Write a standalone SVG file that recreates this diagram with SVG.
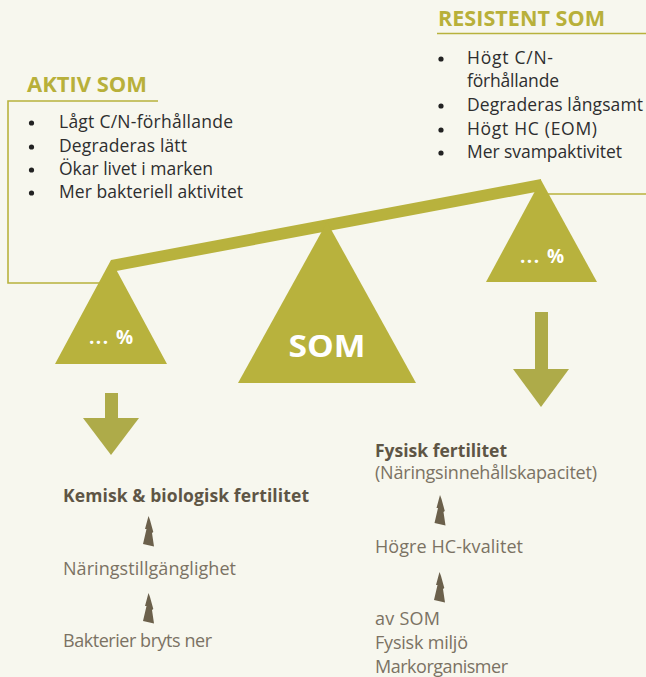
<svg xmlns="http://www.w3.org/2000/svg" width="646" height="677" viewBox="0 0 646 677">
<defs>
<style>
.bg{fill:#f7f7ee}
.olive{fill:#b8b23d}
.arr{fill:#aeab49}
.ln{stroke:#b8b23d;stroke-width:1.6;fill:none}
.hd{font-family:"Open Sans","Liberation Sans",sans-serif;font-weight:700;font-size:21px;fill:#b8b03a}
.bl{font-family:"Open Sans","Liberation Sans",sans-serif;font-size:17.5px;fill:#2e2e2e}
.dot{fill:#222}
.bt{font-family:"Open Sans","Liberation Sans",sans-serif;font-weight:700;font-size:17.5px;fill:#5e5545}
.rt{font-family:"Open Sans","Liberation Sans",sans-serif;font-size:18px;fill:#7b7263}
.wt{font-family:"Open Sans","Liberation Sans",sans-serif;font-weight:700;fill:#ffffff;text-anchor:middle}
.tree{fill:#6b604b}
</style>
<path id="tr" d="M0,0 L-3.5,13 L-2,13 L-5.5,28 L5.5,30.5 L3.5,17 L4.8,16 L1.5,4 Z"/>
</defs>
<rect class="bg" x="0" y="0" width="646" height="677"/>

<g id="connectors">
<polyline class="ln" points="158,101 8,101 8,283 100,283"/>
<line class="ln" x1="437" y1="33.5" x2="646" y2="33.5"/>
<line class="ln" x1="548" y1="194" x2="646" y2="194"/>
<g id="arrow-left">
<rect class="arr" x="105" y="393" width="13" height="26"/>
<polygon class="arr" points="83,418 139,418 111,455"/>
</g>
<g id="arrow-right">
<rect class="arr" x="535" y="312" width="13" height="58"/>
<polygon class="arr" points="513,369 569,369 541,407"/>
</g>
<use href="#tr" class="tree" x="148.5" y="516"/>
<use href="#tr" class="tree" x="148.5" y="593"/>
<use href="#tr" class="tree" x="440" y="495"/>
<use href="#tr" class="tree" x="439.5" y="572"/>
</g>

<g id="aktiv-som">
<text class="hd" x="27" y="92" textLength="120" lengthAdjust="spacingAndGlyphs">AKTIV SOM</text>
<circle class="dot" cx="31.5" cy="123" r="2.6"/>
<circle class="dot" cx="31.5" cy="147" r="2.6"/>
<circle class="dot" cx="31.5" cy="170" r="2.6"/>
<circle class="dot" cx="31.5" cy="193" r="2.6"/>
<text class="bl" x="59" y="128" textLength="174">Lågt C/N-förhållande</text>
<text class="bl" x="59" y="152" textLength="128">Degraderas lätt</text>
<text class="bl" x="59" y="175" textLength="154">Ökar livet i marken</text>
<text class="bl" x="59" y="198" textLength="184">Mer bakteriell aktivitet</text>
</g>

<g id="resistent-som">
<text class="hd" x="438" y="26" textLength="167" lengthAdjust="spacingAndGlyphs">RESISTENT SOM</text>
<circle class="dot" cx="441" cy="59" r="2.6"/>
<circle class="dot" cx="441" cy="106" r="2.6"/>
<circle class="dot" cx="441" cy="130" r="2.6"/>
<circle class="dot" cx="441" cy="153" r="2.6"/>
<text class="bl" x="467" y="64" textLength="86">Högt C/N-</text>
<text class="bl" x="467" y="87" textLength="92">förhållande</text>
<text class="bl" x="467" y="111" textLength="176">Degraderas långsamt</text>
<text class="bl" x="467" y="135" textLength="130">Högt HC (EOM)</text>
<text class="bl" x="467" y="158" textLength="155">Mer svampaktivitet</text>
</g>

<g id="balance">
<polygon class="olive" points="111,260 541,179 541,191 111,272"/>
<polygon class="olive" points="327,222 416,383 238,383"/>
<polygon class="olive" points="111,260 167,364 55,364"/>
<polygon class="olive" points="541,180 597,282 486,282"/>
<text class="wt" x="327" y="357" font-size="31" textLength="77" lengthAdjust="spacingAndGlyphs">SOM</text>
<text class="wt" x="111" y="344" font-size="19" textLength="44">... %</text>
<text class="wt" x="542" y="263" font-size="19" textLength="44">... %</text>
</g>

<g id="kemisk">
<text class="bt" x="63" y="502" textLength="246">Kemisk &amp; biologisk fertilitet</text>
<text class="rt" x="63" y="575" textLength="173">Näringstillgänglighet</text>
<text class="rt" x="63" y="647" textLength="149">Bakterier bryts ner</text>
</g>

<g id="fysisk">
<text class="bt" x="375" y="457" textLength="132">Fysisk fertilitet</text>
<text class="rt" x="375" y="479" textLength="222">(Näringsinnehållskapacitet)</text>
<text class="rt" x="375" y="553" textLength="148">Högre HC-kvalitet</text>
<text class="rt" x="375" y="625" textLength="65">av SOM</text>
<text class="rt" x="375" y="649" textLength="93">Fysisk miljö</text>
<text class="rt" x="375" y="673" textLength="133">Markorganismer</text>
</g>
</svg>
